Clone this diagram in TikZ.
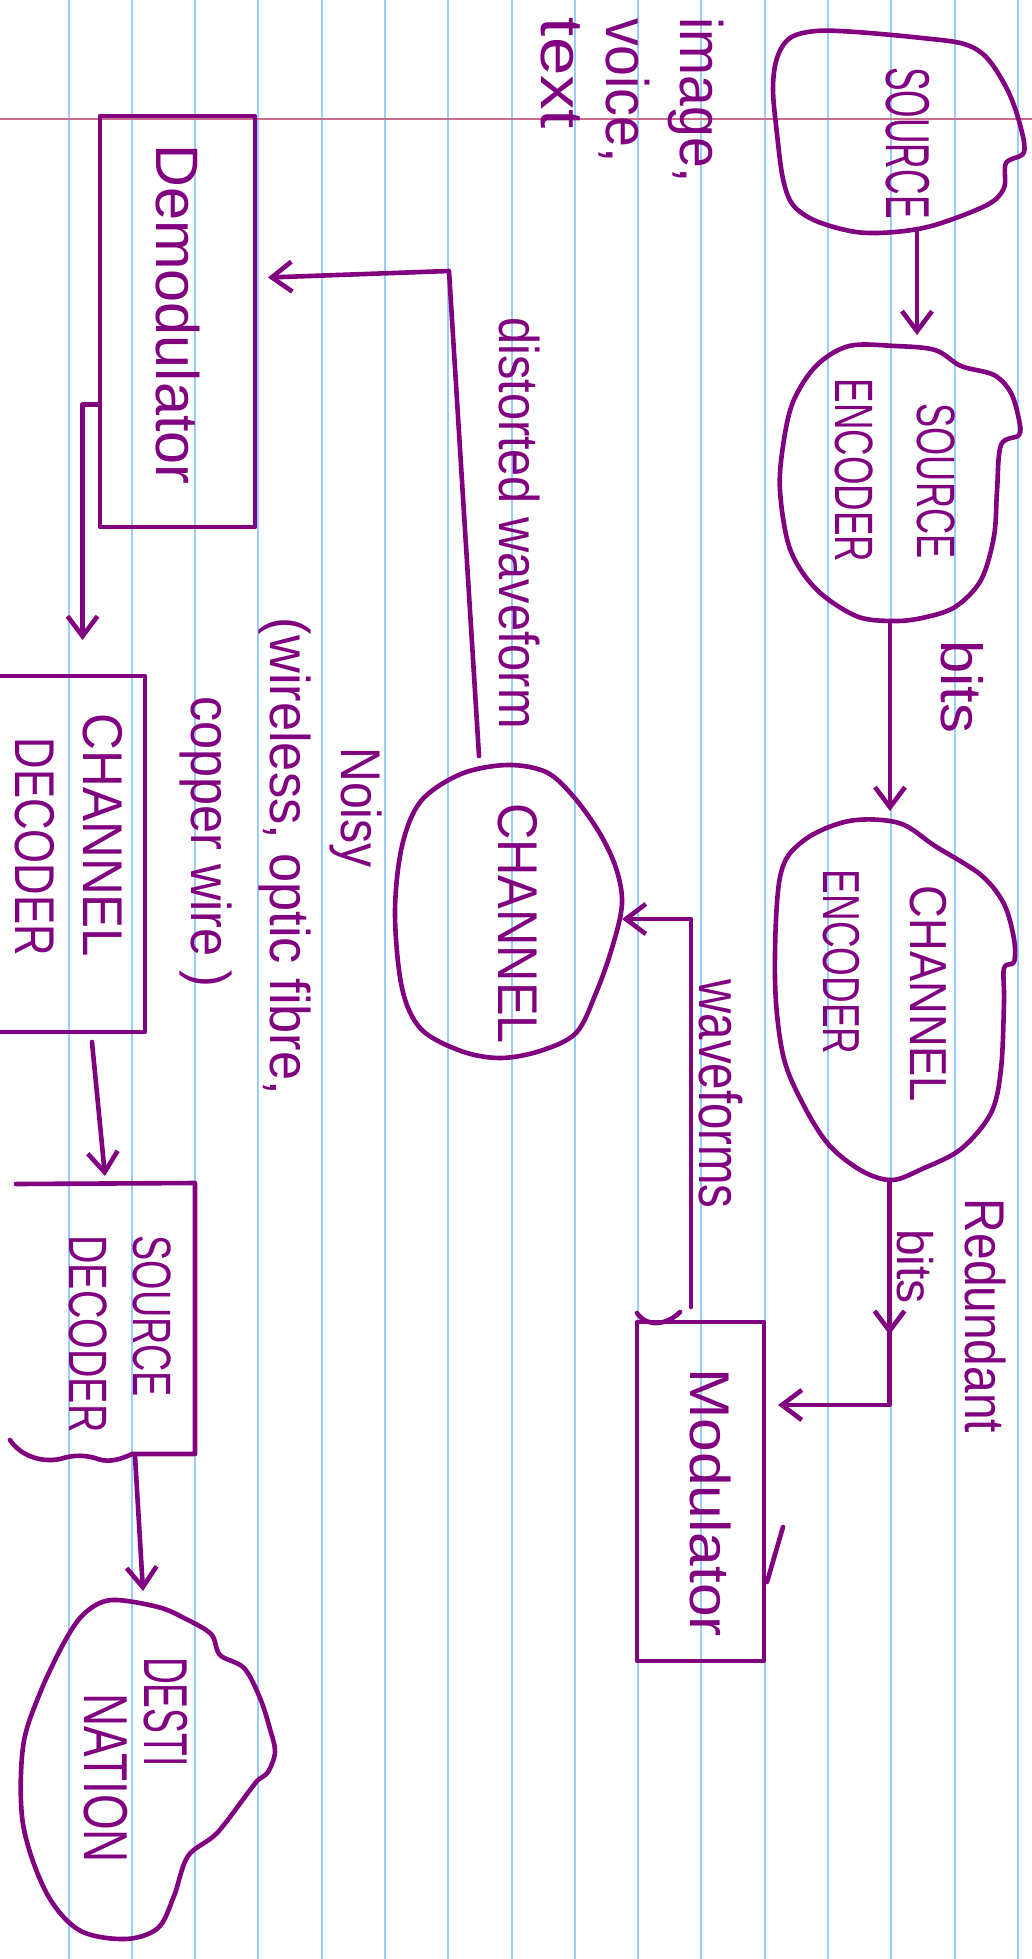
\documentclass[tikz,border=0pt]{standalone}
\usepackage{fontspec}
\setmainfont{Liberation Sans}
\usepackage{graphicx}
\usetikzlibrary{arrows.meta,calc,decorations.markings}
\definecolor{ink}{RGB}{128,0,128}
\definecolor{ruleblue}{RGB}{153,204,255}
\definecolor{marginred}{RGB}{200,110,140}
\newcommand\hw[2]{\scalebox{#1}[1]{#2}}
\newcommand\rtx[1]{\rotatebox{-90}{#1}}
\newcommand\fsz[2]{\fontsize{#1pt}{#2pt}\selectfont}
\newcommand\plc[3]{\hspace*{#1pt}\rtx{\hspace*{#2pt}#3}}
\tikzset{
  pen/.style={draw=ink, line width=2.3pt, line cap=round, line join=round},
  arr/.style={pen, -{Straight Barb[length=10pt,width=15pt]}},
  shp/.style={rectangle, inner sep=0pt, outer sep=0pt, text=ink},
  boxnode/.style={shp, pen},
  lbl/.style={inner sep=0pt, outer sep=0pt, text=ink}
}
\begin{document}
\begin{tikzpicture}[x=0.5pt,y=-0.5pt]
\useasboundingbox (0,0) rectangle (1032,1959);
\fill[white] (0,0) rectangle (1032,1959);
\foreach \k in {0,...,15} \draw[ruleblue, line width=1pt] ({68.5+63.29*\k},0) -- ({68.5+63.29*\k},1959);
\draw[marginred, line width=1pt] (0,119) -- (1032,119);

% blob-shaped nodes (outline drawn by hand below)
\node[shp, minimum width=125.5pt, minimum height=100.5pt, font=\fsz{31}{37}] (src) at (898.5,131.5)
  {\plc{9.5}{11.5}{\hw{0.57}{SOURCE}}};
\node[shp, minimum width=119.5pt, minimum height=137.5pt, font=\fsz{27}{41}] (senc) at (899.5,483.5)
  {\plc{-6.5}{-13}{\begin{tabular}{@{}l@{}}\hspace*{12.5pt}\hw{0.67}{SOURCE}\\\hw{0.68}{ENCODER}\end{tabular}}};
\node[shp, minimum width=119.5pt, minimum height=179.5pt, font=\fsz{26}{43.5}] (cenc) at (894.5,1000.5)
  {\plc{-10}{-14.5}{\begin{tabular}{@{}l@{}}\hspace*{8pt}\hw{0.87}{CHANNEL}\\\hw{0.71}{ENCODER}\end{tabular}}};
\node[shp, minimum width=113.5pt, minimum height=146.5pt, font=\fsz{28}{34}] (ch) at (508.5,911.5)
  {\plc{9.5}{12}{\hw{0.9}{CHANNEL}}};
\node[shp, minimum width=126pt, minimum height=169.5pt, font=\fsz{31}{27}] (dest) at (149,1769.5)
  {\plc{-21}{-9.5}{\begin{tabular}{@{}l@{}}\hw{0.6}{DESTI}\\\hspace*{18pt}\hw{0.74}{NATION}\end{tabular}}};

% box nodes
\node[boxnode, minimum width=77.5pt, minimum height=205.5pt, font=\fsz{30}{36}] (demod) at (177.5,321.5)
  {\plc{0}{-7}{\hw{0.99}{Demodulator}}};
\node[boxnode, minimum width=63.5pt, minimum height=169.5pt, font=\fsz{28}{34}] (mod) at (700.5,1491.5)
  {\plc{10.5}{11}{\hw{1.08}{Modulator}}};
\node[shp, minimum width=72.5pt, minimum height=178pt, font=\fsz{28}{34}] (chdec) at (72.5,854)
  {\plc{-9}{-18.5}{\begin{tabular}{@{}l@{}}\hw{0.91}{CHANNEL}\\\hspace*{12pt}\hw{0.78}{DECODER}\end{tabular}}};
\node[shp, minimum width=92.5pt, minimum height=135.5pt, font=\fsz{27}{32}] (sdec) at (102.5,1318.5)
  {\plc{12}{15.5}{\begin{tabular}{@{}l@{}}\hw{0.70}{SOURCE}\\\hw{0.73}{DECODER}\end{tabular}}};

% hand-drawn outlines
\draw[pen] plot[smooth cycle, tension=0.55] coordinates {(790,38) (816,31) (856,32) (922,38) (964,44) (987,58) (1007,89) (1019,121) (1024,152) (1006,163) (1004,188) (987,205) (935,225) (895,232) (856,232) (816,221) (793,205) (783,179) (777,134) (773,89) (777,58)};
\draw[pen] plot[smooth cycle, tension=0.55] coordinates {(849,346) (895,346) (935,350) (961,366) (994,375) (1011,393) (1019,420) (1019,435) (1001,445) (997,491) (994,536) (981,580) (955,607) (922,618) (892,621) (856,616) (816,589) (790,549) (780,491) (783,446) (793,402) (816,366)};
\draw[pen] plot[smooth cycle, tension=0.55] coordinates {(849,821) (899,823) (935,846) (981,875) (1004,904) (1014,939) (1014,962) (1004,968) (1004,1002) (1001,1069) (991,1113) (961,1149) (922,1169) (892,1180) (862,1171) (829,1145) (803,1104) (783,1055) (775,979) (780,877) (803,841)};
\draw[pen] plot[smooth cycle, tension=0.55] coordinates {(507,765) (546,772) (573,796) (599,832) (616,868) (622,904) (612,948) (596,993) (576,1033) (540,1051) (500,1058) (461,1051) (421,1029) (402,988) (395,913) (402,846) (421,801) (461,774)};
\draw[pen] plot[smooth cycle, tension=0.55] coordinates {(112,1600) (158,1607) (184,1618) (211,1634) (220,1655) (244,1668) (260,1698) (270,1729) (275,1752) (268,1772) (258,1780) (250,1790) (217,1833) (188,1856) (174,1896) (158,1928) (125,1939) (79,1930) (46,1892) (23,1824) (23,1747) (40,1693) (66,1639) (86,1612)};

% open boxes and strokes
\draw[pen] (chdec.north west) -- (chdec.north east) -- (chdec.south east) -- (chdec.south west);
\draw[pen] ($(sdec.north west)+(6,1)$) -- (sdec.north east) -- (sdec.south east) -- ($(sdec.south east)+(-63,0)$)
  .. controls (115,1462) and (105,1462) .. (95,1458) .. controls (80,1454) and (70,1456) .. (60,1459)
  .. controls (40,1463) and (20,1455) .. (10,1440);
\draw[pen] ($(mod.east)+(19,35.5)$) -- ($(mod.east)+(3,90.5)$);
\draw[pen] ($(mod.north west)+(0,-9)$) .. controls ($(mod.north west)+(10,6)$) and ($(mod.north west)+(30,3)$) .. ($(mod.north west)+(43,-10)$);

% labels
\node[lbl, font=\fsz{30}{36}] (limage) at (696,100.5) {\rtx{\hw{0.92}{image,}}};
\node[lbl, font=\fsz{30}{36}] (lvoice) at (624,90.5) {\rtx{\hw{0.925}{voice,}}};
\node[lbl, font=\fsz{30}{36}] (ltext) at (561,73.5) {\rtx{\hw{1.15}{text}}};
\node[lbl, font=\fsz{28}{34}] (ldist) at (520,523) {\rtx{\hw{0.87}{distorted waveform}}};
\node[lbl, font=\fsz{30}{36}] (lwave) at (720.5,1094) {\rtx{\hw{0.79}{waveforms}}};
\node[lbl, font=\fsz{28}{34}] (lnoisy) at (356,807.5) {\rtx{\hw{0.86}{Noisy}}};
\node[lbl, font=\fsz{28}{34}] (lwire) at (284.5,856.5) {\rtx{\hw{0.935}{(wireless, optic fibre,}}};
\node[lbl, font=\fsz{28}{34}] (lcopper) at (205.5,842) {\rtx{\hw{0.9}{copper wire )}}};
\node[lbl, font=\fsz{29}{35}] (lbitsa) at (962,686.5) {\rtx{\hw{1.03}{bits}}};
\node[lbl, font=\fsz{28}{34}] (lred) at (986,1316) {\rtx{\hw{0.855}{Redundant}}};
\node[lbl, font=\fsz{25}{30}] (lbitsb) at (915,1266.5) {\rtx{\hw{0.96}{bits}}};

% connectors
\draw[arr] ($(src.south)+(18.5,0)$) -- ($(senc.north)+(17.5,-11)$);
\draw[arr] ($(senc.south)+(-9.5,0)$) -- ($(cenc.north)+(-4.5,-10)$);
\draw[arr, postaction={decorate}, decoration={markings, mark=at position 0.46 with {\arrow{Straight Barb[length=10pt,width=15pt]}}}]
  ($(cenc.south)+(-5,0)$) |- ($(mod.east)+(14,-86.5)$);
\draw[arr] ($(mod.north)+(-9.5,-15)$) |- ($(ch.east)+(0,7.5)$);
\coordinate (dwb) at (449,271);
\draw[arr] ($(ch.north)+(-29.5,-9)$) -- (dwb) -- ($(demod.east)+(13,-44)$);
\draw[arr] ($(demod.west)+(0,83)$) -| ($(chdec.north)+(10,-36)$);
\draw[arr] ($(chdec.south)+(19.5,10)$) -- ($(sdec.north)+(2.5,-7)$);
\draw[arr] ($(sdec.south)+(32.5,2)$) -- ($(dest.north)+(-6,-9)$);
\end{tikzpicture}
\end{document}
